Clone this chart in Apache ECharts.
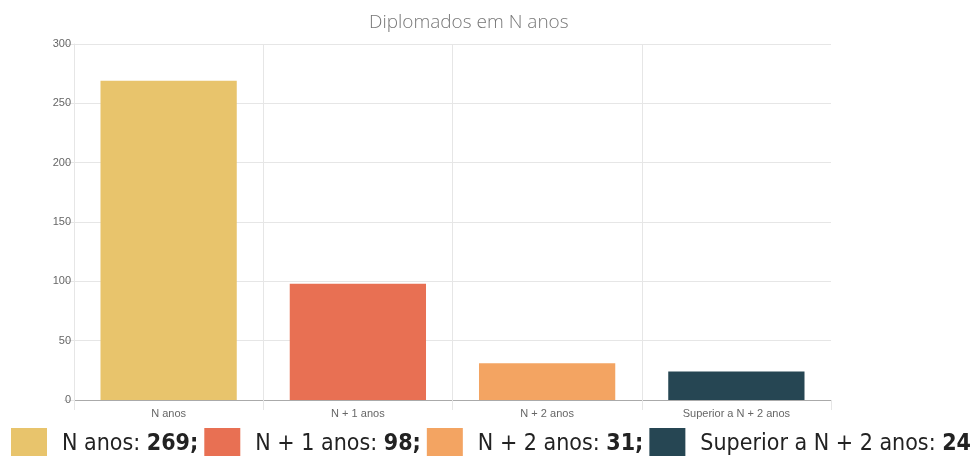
<!DOCTYPE html>
<html>
<head>
    <meta charset="UTF-8">
    <title>Diplomados em N anos</title>
    <style>
        html, body { margin: 0; padding: 0; background: #fff; }
    </style>
</head>
<body>

<script src="https://cdn.jsdelivr.net/npm/echarts@6/dist/echarts.min.js"></script>

<div id="chartDom" style="width: 975px;height:456px;"></div>

<script type="text/javascript">
    var categories = ['N anos', 'N + 1 anos', 'N + 2 anos', 'Superior a N + 2 anos'];
    var values = [269, 98, 31, 24];
    var colors = ['#E8C46C', '#E87053', '#F3A462', '#264653'];
    var yTicks = [0, 50, 100, 150, 200, 250, 300];

    var myChart = echarts.init(document.getElementById('chartDom'));

    // one series per category so the legend can list each bar
    var series = categories.map(function (name, i) {
        return {
            name: name,
            type: 'bar',
            stack: 'all',
            barWidth: '72%',
            itemStyle: { color: colors[i] },
            data: values.map(function (v, j) { return j === i ? v : '-'; })
        };
    });

    // last boundary line (right edge) is not drawn in the original
    var gridCol = '#e6e6e6';
    var vLineCols = [gridCol, gridCol, gridCol, gridCol, 'rgba(0,0,0,0)'];

    var option = {
        animation: false,
        title: {
            text: 'Diplomados em N anos',
            left: 364,
            top: 8,
            textStyle: {
                fontFamily: 'Open Sans',
                fontWeight: 300,
                fontSize: 19,
                color: '#777'
            }
        },
        grid: {
            left: 74,
            right: 144,
            top: 44,
            bottom: 56
        },
        legend: {
            data: categories,
            left: 11,
            top: 428,
            padding: 0,
            itemWidth: 36,
            itemHeight: 28,
            itemGap: 6,
            icon: 'rect',
            selectedMode: false,
            formatter: function (name) {
                var i = categories.indexOf(name);
                var tail = i < categories.length - 1 ? ';' : '';
                return '{n|' + name + ': }{b|' + values[i] + tail + '}';
            },
            textStyle: {
                padding: [5, 0, 0, 10],
                rich: {
                    n: { fontFamily: 'DejaVu Sans Condensed', fontSize: 23, color: '#222' },
                    b: { fontFamily: 'DejaVu Sans Condensed', fontSize: 23, fontWeight: 'bold', color: '#222' }
                }
            }
        },
        xAxis: {
            type: 'category',
            data: categories,
            axisLine: { lineStyle: { color: '#aaa' } },
            axisTick: { show: true, length: 10, lineStyle: { color: gridCol } },
            axisLabel: { color: '#666', fontSize: 11, fontFamily: 'Liberation Sans', margin: 8 },
            splitLine: { show: true, lineStyle: { color: vLineCols } }
        },
        yAxis: {
            type: 'value',
            min: yTicks[0],
            max: yTicks[yTicks.length - 1],
            interval: 50,
            axisLine: { show: true, lineStyle: { color: gridCol } },
            axisTick: { show: true, length: 10, lineStyle: { color: gridCol } },
            axisLabel: { color: '#666', fontSize: 11, fontFamily: 'Liberation Sans', margin: 3 },
            splitLine: { show: true, lineStyle: { color: gridCol } }
        },
        series: series
    };

    myChart.setOption(option);
</script>
</body>
</html>
